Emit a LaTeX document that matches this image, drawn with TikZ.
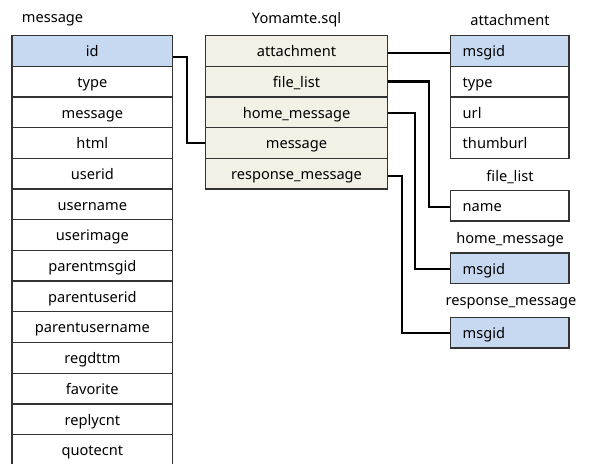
\documentclass[tikz,border=0pt]{standalone}
\usepackage{fontspec}
\setmainfont{Noto Sans}
\definecolor{keyblue}{HTML}{C6D9F1}
\definecolor{cream}{HTML}{F3F0E5}
\definecolor{border}{HTML}{333333}
\tikzset{
  base/.style={font=\fontsize{14.6bp}{17bp}\selectfont},
  title/.style={base, inner sep=0pt},
  cell/.style={base, draw=border, line width=1.3bp, rectangle, inner sep=0pt, minimum height=30.7bp, text height=14bp, text depth=2.4bp},
  mcell/.style={cell, minimum width=160.7bp},
  ycell/.style={cell, minimum width=181.6bp, fill=cream},
  rcell/.style={cell, text width=94.3bp, inner xsep=12bp, align=left},
  key/.style={fill=keyblue},
  conn/.style={draw=black, line width=2.2bp}
}
\begin{document}
\begin{tikzpicture}[x=1bp,y=-1bp]
\useasboundingbox (0,0) rectangle (589,464);
% titles
\node[title, anchor=west] (tmsg) at (21.7,20) {message};
\node[title] (tyom) at (296.5,20) {Yomamte.sql};
\node[title] (tatt) at (510,20) {attachment};
\node[title] (tfl) at (510,177.3) {file\_list};
\node[title] (thm) at (510,240) {home\_message};
\node[title] (trm) at (511,303.3) {response\_message};
% message table
\node[mcell, key] (m1) at (92.35,50.85) {id};
\node[mcell] (m2) at (92.35,81.55) {type};
\node[mcell] (m3) at (92.35,112.25) {message};
\node[mcell] (m4) at (92.35,142.95) {html};
\node[mcell] (m5) at (92.35,173.65) {userid};
\node[mcell] (m6) at (92.35,204.35) {username};
\node[mcell] (m7) at (92.35,235.05) {userimage};
\node[mcell] (m8) at (92.35,265.75) {parentmsgid};
\node[mcell] (m9) at (92.35,296.45) {parentuserid};
\node[mcell] (m10) at (92.35,327.15) {parentusername};
\node[mcell] (m11) at (92.35,357.85) {regdttm};
\node[mcell] (m12) at (92.35,388.55) {favorite};
\node[mcell] (m13) at (92.35,419.25) {replycnt};
\node[mcell] (m14) at (92.35,449.95) {quotecnt};
% Yomamte.sql table
\node[ycell] (y1) at (296.5,50.85) {attachment};
\node[ycell] (y2) at (296.5,81.55) {file\_list};
\node[ycell] (y3) at (296.5,112.25) {home\_message};
\node[ycell] (y4) at (296.5,142.95) {message};
\node[ycell] (y5) at (296.5,173.65) {response\_message};
% attachment table
\node[rcell, key] (a1) at (509.85,50.85) {msgid};
\node[rcell] (a2) at (509.85,81.55) {type};
\node[rcell] (a3) at (509.85,112.25) {url};
\node[rcell] (a4) at (509.85,142.95) {thumburl};
% file_list
\node[rcell] (f1) at (509.85,205.7) {name};
% home_message
\node[rcell, key] (h1) at (509.85,268.3) {msgid};
% response_message
\node[rcell, key] (r1) at (509.85,332.5) {msgid};
% connectors
\draw[conn] ([yshift=-6.4bp]m1.east) -- ++(14,0) |- (y4.west);
\draw[conn] ([yshift=-2.5bp]y1.east) -- ([yshift=-2.5bp]a1.west);
\draw[conn] (y2.east) -- ++(41,0) |- ([yshift=-1bp]f1.west);
\draw[conn] ([yshift=-1bp]y3.east) -- ++(26.7,0) |- ([yshift=-0.7bp]h1.west);
\draw[conn] ([yshift=-2.4bp]y5.east) -- ++(13.7,0) |- ([yshift=-0.8bp]r1.west);
\end{tikzpicture}
\end{document}
